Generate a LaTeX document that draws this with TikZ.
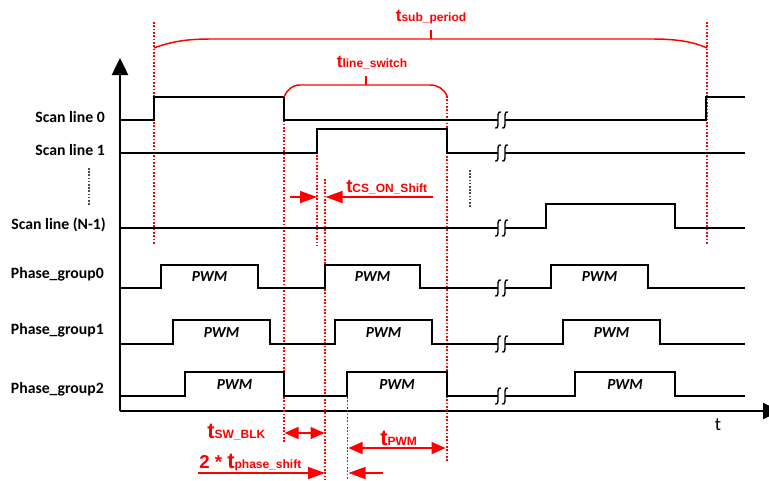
\documentclass[tikz,border=0pt]{standalone}
\usepackage{fontspec}
\setmainfont{Carlito}
\newfontfamily\redf{Liberation Sans}
\usetikzlibrary{arrows.meta}
\newcommand\tsub[2]{{\redf\bfseries\fontsize{#1}{#1}\selectfont t\fontsize{9}{9}\selectfont #2}}
\begin{document}
\begin{tikzpicture}[x=0.75pt,y=-0.75pt,
  sig/.style={line width=1.1pt,black,line join=miter},
  axisln/.style={line width=1.9pt,black,-{Triangle[length=12.75pt,width=12pt]}},
  rdot/.style={red,line width=0.8pt,dash pattern=on 1.2pt off 1.3pt},
  rline/.style={red,line width=1.1pt},
  rbig/.style={rline,-{Triangle[length=12.75pt,width=9pt]}},
  rsm/.style={rline,{Triangle[length=10.5pt,width=9pt]}-{Triangle[length=10.5pt,width=9pt]}},
  gdot/.style={black!70,line width=1.2pt,dash pattern=on 1.2pt off 1.2pt},
  lbl/.style={font=\fontsize{11.8}{12}\selectfont\bfseries,anchor=base east,inner sep=0pt},
  pwm/.style={font=\fontsize{11.5}{12}\selectfont\bfseries\itshape,inner sep=0pt},
  rlbl/.style={red,inner sep=0pt},
  wig/.pic={\draw[sig,line width=1pt] (2.8,-8) .. controls (-0.5,-9) and (0,-4) .. (0,0) .. controls (0,4) and (0.5,9) .. (-2.8,8);}
]
\useasboundingbox (0,0) rectangle (769,480);

% axes
\coordinate (org) at (120,411);
\coordinate (ytip) at (120,58);
\coordinate (xtip) at (780,411);
\draw[axisln] (org) -- (ytip);
\draw[axisln] (org) -- (xtip);
\node[font=\fontsize{14}{14}\selectfont,inner sep=0pt] (tax) at (718,425) {t};

% labels
\node[lbl] (s0) at (105,122) {Scan line 0};
\node[lbl] (s1) at (105,155.5) {Scan line 1};
\node[lbl] (sn) at (106,229) {Scan line (N-1)};
\node[lbl] (p0) at (104,278.5) {Phase\_group0};
\node[lbl] (p1) at (104,334) {Phase\_group1};
\node[lbl] (p2) at (104,393) {Phase\_group2};

% gray dotted
\coordinate (g1a) at (89,168); \coordinate (g1b) at (89,206);
\coordinate (g2a) at (470,170); \coordinate (g2b) at (470,207);
\draw[gdot] (g1a) -- (g1b);
\draw[gdot] (g2a) -- (g2b);

% red dotted verticals
\draw[rdot] (154,22) -- (154,244);
\draw[rdot] (707,22) -- (707,245);
\draw[rdot] (284,97) -- (284,443);
\draw[rdot] (447,96) -- (447,462);
\draw[rdot] (317,155) -- (317,246);
\draw[rdot] (325,179) -- (325,480);
\draw[rdot] (347.5,397) -- (347.5,480);

% scan lines
\draw[sig] (120,120) -- (154,120) -- (154,97) -- (284,97) -- (284,120) -- (498,120);
\draw[sig] (505,120) -- (706,120) -- (706,97) -- (745,97);
\draw[sig] (120,153) -- (317,153) -- (317,129) -- (447,129) -- (447,153) -- (498,153);
\draw[sig] (505,153) -- (745,153);
\draw[sig] (120,228) -- (498,228);
\draw[sig] (505,228) -- (546,228) -- (546,204) -- (675,204) -- (675,228) -- (745,228);

% phase groups
\draw[sig] (120,288) -- (161,288) -- (161,265) -- (258,265) -- (258,288) -- (325,288) -- (325,265) -- (420,265) -- (420,288) -- (498,288);
\draw[sig] (505,288) -- (551,288) -- (551,265) -- (648,265) -- (648,288) -- (745,288);
\draw[sig] (120,344) -- (173,344) -- (173,320) -- (270,320) -- (270,344) -- (335,344) -- (335,320) -- (432,320) -- (432,344) -- (498,344);
\draw[sig] (505,344) -- (563,344) -- (563,320) -- (660,320) -- (660,344) -- (745,344);
\draw[sig] (120,396) -- (185,396) -- (185,372) -- (284,372) -- (284,396) -- (347,396) -- (347,372) -- (447,372) -- (447,396) -- (498,396);
\draw[sig] (505,396) -- (575,396) -- (575,372) -- (675,372) -- (675,396) -- (745,396);

% breaks
\foreach \yy in {120,153,228,288,344,396}{
  \pic at (498,\yy) {wig};
  \pic at (505,\yy) {wig};
}

% PWM texts
\node[pwm] (w00) at (209.5,277) {PWM};
\node[pwm] (w01) at (372.5,277) {PWM};
\node[pwm] (w02) at (599.5,277) {PWM};
\node[pwm] (w10) at (221.5,333) {PWM};
\node[pwm] (w11) at (383.5,333) {PWM};
\node[pwm] (w12) at (611.5,333) {PWM};
\node[pwm] (w20) at (234.5,385) {PWM};
\node[pwm] (w21) at (397,385) {PWM};
\node[pwm] (w22) at (625,385) {PWM};

% sub period brace
\draw[rline] (154,48) .. controls (172,41) and (190,39) .. (210,39) -- (653,39) .. controls (673,39) and (692,41) .. (707,48);
\draw[rline] (431,39) -- (431,30);
\node[rlbl,anchor=base] (tsp) at (431,21) {\tsub{13}{sub\_period}};

% line switch brace
\draw[rline] (284,97) .. controls (287,90) and (292,85) .. (300,85) -- (430,85) .. controls (438,85) and (444,89) .. (447,96);
\draw[rline] (366,85) -- (366,76);
\node[rlbl,anchor=base] (tls) at (372,67) {\tsub{13}{line\_switch}};

% CS on shift
\coordinate (c1a) at (290,197); \coordinate (c1b) at (317,197);
\coordinate (c2a) at (433,197); \coordinate (c2b) at (325.5,197);
\draw[rbig] (c1a) -- (c1b);
\draw[rbig] (c2a) -- (c2b);
\node[rlbl,anchor=base west] (tcs) at (346,192) {\tsub{14}{CS\_ON\_Shift}};

% SW BLK
\coordinate (b1) at (284.5,433); \coordinate (b2) at (324.5,433);
\draw[rsm] (b1) -- (b2);
\node[rlbl,anchor=base west] (tsw) at (207,438) {\tsub{16.5}{SW\_BLK}};

% PWM
\coordinate (m1) at (348.5,448); \coordinate (m2) at (445.5,448);
\draw[rsm] (m1) -- (m2);
\node[rlbl,anchor=base west] (tpw) at (380,445.5) {\tsub{16.5}{PWM}};

% phase shift
\coordinate (f1) at (198,473); \coordinate (f2) at (325,473);
\coordinate (f3) at (383,473); \coordinate (f4) at (348.5,473);
\draw[rbig] (f1) -- (f2);
\draw[rbig] (f3) -- (f4);
\node[rlbl,anchor=base west] (tps) at (199,468) {{\redf\bfseries\fontsize{14}{14}\selectfont 2 * }\tsub{16.5}{phase\_shift}};
\end{tikzpicture}
\end{document}
